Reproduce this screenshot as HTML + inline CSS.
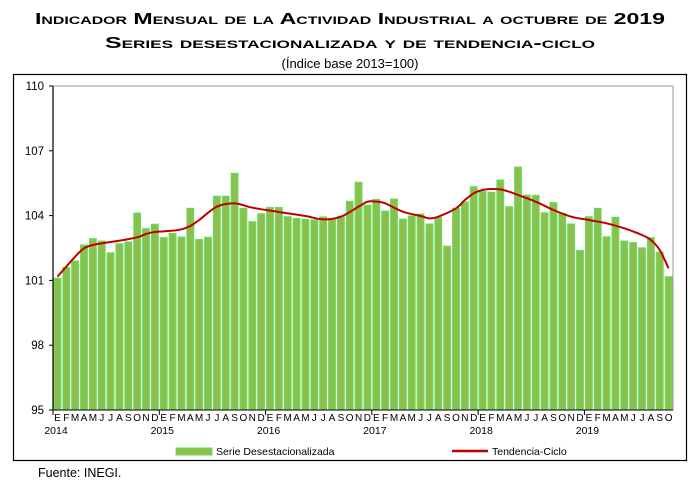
<!DOCTYPE html>
<html><head><meta charset="utf-8"><style>
body{margin:0;background:#fff;width:700px;height:487px;overflow:hidden;font-family:"Liberation Sans",Arial,sans-serif}
</style></head><body>
<svg id="s" width="700" height="487" xmlns="http://www.w3.org/2000/svg" font-family="Liberation Sans, Arial, sans-serif">
<text x="350" y="24" text-anchor="middle" font-weight="bold" font-size="16" style="font-variant:small-caps" textLength="630" lengthAdjust="spacingAndGlyphs">Indicador Mensual de la Actividad Industrial a octubre de 2019</text>
<text x="350" y="48" text-anchor="middle" font-weight="bold" font-size="16" style="font-variant:small-caps" textLength="490" lengthAdjust="spacingAndGlyphs">Series desestacionalizada y de tendencia-ciclo</text>
<text x="350" y="68" text-anchor="middle" font-size="13">(Índice base 2013=100)</text>
<rect x="13.5" y="74.5" width="673" height="386" fill="none" stroke="#000" stroke-width="1.2"/>
<g id="g"></g>
<rect x="176" y="448" width="36" height="7" fill="#8cbf4c" stroke="#5fe05f"/>
<text x="216" y="455" font-size="10.5">Serie Desestacionalizada</text>
<line x1="452" y1="451" x2="488" y2="451" stroke="#c00000" stroke-width="2.5"/>
<text x="492" y="455" font-size="10.5">Tendencia-Ciclo</text>
<text x="38" y="477" font-size="12.5">Fuente: INEGI.</text>
</svg>
<script>
var v=[101.1,101.6,101.9,102.64,102.93,102.82,102.28,102.7,102.78,104.12,103.4,103.6,
102.98,103.18,103.01,104.34,102.9,103.0,104.9,104.9,105.96,104.34,103.72,104.09,
104.38,104.38,103.95,103.87,103.83,103.8,103.94,103.87,103.97,104.66,105.54,104.48,
104.75,104.21,104.77,103.84,103.98,104.07,103.61,103.92,102.59,104.34,104.63,105.34,
105.11,105.08,105.65,104.41,106.25,104.95,104.94,104.13,104.6,104.1,103.61,102.39,
103.95,104.34,103.02,103.92,102.82,102.75,102.51,102.98,102.31,101.17];
var tz={1:410,3:350,4:325,5:315,6:310,8:302,10:292,11:282,12:276,14:272,15:268,16:258,17:240,19:200,21:190,23:203,26:216,29:228,31:238,33:230,35:200,36:185,37:185,38:190,40:215,42:228,43:235,44:230,46:205,47:180,48:160,49:150,50:147,51:148,52:155,53:165,55:185,57:210,59:230,61:240,63:250,65:265,67:285,68:300,69:330,70:385};
var L=53,R=673,T=86,B=410,W=(R-L)/70;
function Y(x){return T+(110-x)*(B-T)/15}
var h='';
h+='<line x1="'+L+'" y1="'+T+'" x2="'+R+'" y2="'+T+'" stroke="#999"/>';
h+='<line x1="'+R+'" y1="'+T+'" x2="'+R+'" y2="'+B+'" stroke="#999"/>';
for(var i=0;i<70;i++){var x=L+i*W+1,y=Y(v[i]);
h+='<rect x="'+x.toFixed(2)+'" y="'+y.toFixed(1)+'" width="'+(W-2).toFixed(2)+'" height="'+(B-y).toFixed(1)+'" fill="#8cbf4c" stroke="#62e062" stroke-width="1"/>';}
var pts=[];for(var k in tz){var i=+k;pts.push([L+(i-0.5)*W,140+tz[k]/3]);}
var d='M'+pts[0][0]+','+pts[0][1];
for(var j=0;j<pts.length-1;j++){var p0=pts[j-1]||pts[j],p1=pts[j],p2=pts[j+1],p3=pts[j+2]||p2;
d+=' C'+(p1[0]+(p2[0]-p0[0])/6)+','+(p1[1]+(p2[1]-p0[1])/6)+' '+(p2[0]-(p3[0]-p1[0])/6)+','+(p2[1]-(p3[1]-p1[1])/6)+' '+p2[0]+','+p2[1];}
h+='<path d="'+d+'" fill="none" stroke="#c00000" stroke-width="2"/>';
h+='<line x1="'+L+'" y1="'+T+'" x2="'+L+'" y2="'+B+'" stroke="#000" stroke-width="1.2"/>';
h+='<line x1="'+L+'" y1="'+B+'" x2="'+R+'" y2="'+B+'" stroke="#000"/>';
[95,98,101,104,107,110].forEach(function(t){var y=Y(t);
h+='<line x1="'+(L-4)+'" y1="'+y+'" x2="'+L+'" y2="'+y+'" stroke="#000"/>';
h+='<text x="'+(L-9)+'" y="'+(y+4)+'" text-anchor="end" font-size="11.5">'+t+'</text>';});
var m='EFMAMJJASOND';
for(var i=0;i<70;i++){var cx=L+(i+0.5)*W;
h+='<text x="'+cx.toFixed(1)+'" y="421" text-anchor="middle" font-size="10">'+m[i%12]+'</text>';
if(i%12==0){h+='<line x1="'+(L+i*W)+'" y1="'+B+'" x2="'+(L+i*W)+'" y2="'+(B+5)+'" stroke="#000"/>';
h+='<text x="'+(L+i*W+3)+'" y="434" text-anchor="middle" font-size="10.5">'+(2014+i/12)+'</text>';}}
document.getElementById('g').innerHTML=h;
</script>
</body></html>
